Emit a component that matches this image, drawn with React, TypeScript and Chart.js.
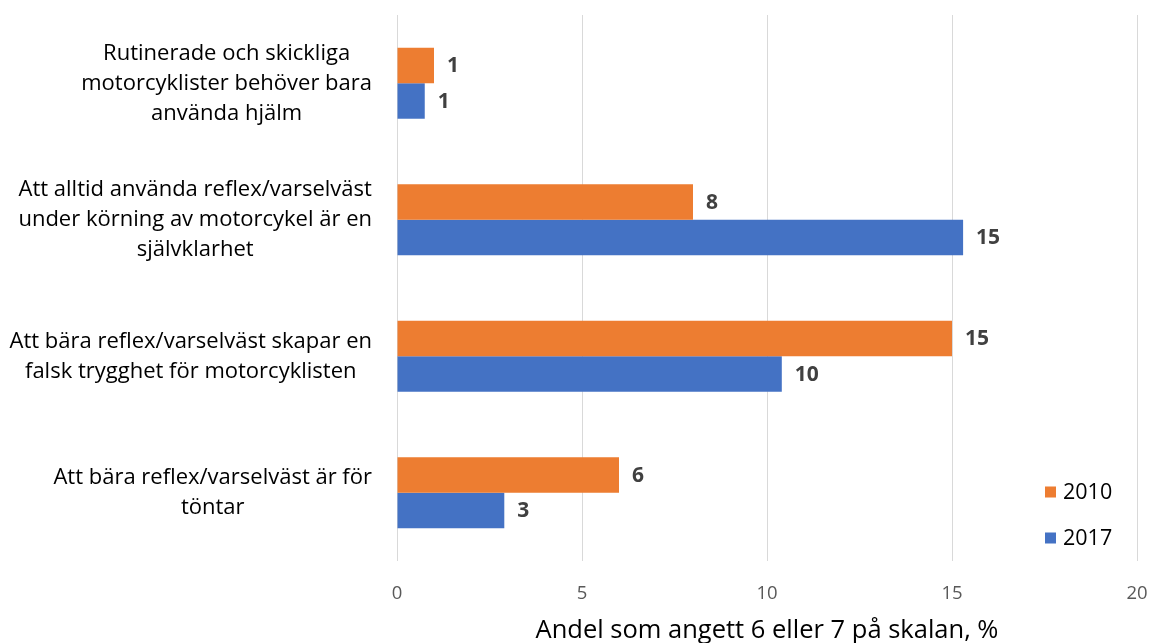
import { useEffect, useRef } from "react";
import { Chart, registerables } from "chart.js";

Chart.register(...registerables);

// Survey statements (wrapped into lines) and the two survey years
const categories: string[][] = [
  ["Rutinerade och skickliga", "motorcyklister behöver bara", "använda hjälm"],
  ["Att alltid använda reflex/varselväst", "under körning av motorcykel är en", "självklarhet"],
  ["Att bära reflex/varselväst skapar en", "falsk trygghet för motorcyklisten"],
  ["Att bära reflex/varselväst är för", "töntar"],
];
const seriesNames = ["2010", "2017"];
const values2010 = [1.0, 8.0, 15.0, 6.0];
const values2017 = [0.75, 15.3, 10.4, 2.9];
const xMin = 0;
const xMax = 20;
const xStep = 5;
const axisTitle = "Andel som angett 6 eller 7 på skalan, %";

const COLORS = ["#ED7D31", "#4472C4"];
const FONT = "'Open Sans', Lato, sans-serif";

// Statement labels: each block centered on itself, blocks right-aligned to the axis
const categoryLabelsPlugin = {
  id: "categoryLabels",
  afterDraw(chart: any) {
    const { ctx, scales, chartArea } = chart;
    const y = scales.y;
    const rightEdge = chartArea.left - 25;
    const lineH = 30;
    ctx.save();
    ctx.font = `22px ${FONT}`;
    ctx.fillStyle = "#000000";
    ctx.textAlign = "center";
    ctx.textBaseline = "middle";
    categories.forEach((lines, i) => {
      const cy = y.getPixelForValue(i);
      const maxW = Math.max(...lines.map((l) => ctx.measureText(l).width));
      const cx = rightEdge - maxW / 2;
      lines.forEach((line, j) => {
        ctx.fillText(line, cx, cy + (j - (lines.length - 1) / 2) * lineH);
      });
    });
    ctx.restore();
  },
};

// Value labels just past the end of each bar
const valueLabelsPlugin = {
  id: "valueLabels",
  afterDatasetsDraw(chart: any) {
    const { ctx } = chart;
    ctx.save();
    ctx.font = `bold 21px ${FONT}`;
    ctx.fillStyle = "#404040";
    ctx.textAlign = "left";
    ctx.textBaseline = "middle";
    chart.data.datasets.forEach((ds: any, di: number) => {
      const meta = chart.getDatasetMeta(di);
      meta.data.forEach((bar: any, i: number) => {
        ctx.fillText(String(Math.round(ds.data[i])), bar.x + 13, bar.y + 1);
      });
    });
    ctx.restore();
  },
};

// Legend in the lower right corner of the plot
const cornerLegendPlugin = {
  id: "cornerLegend",
  afterDraw(chart: any) {
    const { ctx, chartArea } = chart;
    const x = chartArea.right - 92;
    const rows = [chartArea.bottom - 69, chartArea.bottom - 23];
    ctx.save();
    ctx.font = `21.5px ${FONT}`;
    ctx.textAlign = "left";
    ctx.textBaseline = "middle";
    chart.data.datasets.forEach((ds: any, i: number) => {
      const cy = rows[i];
      ctx.fillStyle = ds.backgroundColor;
      ctx.fillRect(x, cy - 5.5, 11, 11);
      ctx.fillStyle = "#000000";
      ctx.fillText(ds.label, x + 18, cy + 1);
    });
    ctx.restore();
  },
};

export default function App() {
  const canvasRef = useRef<HTMLCanvasElement | null>(null);

  useEffect(() => {
    document.body.style.margin = "0";
    const canvas = canvasRef.current;
    if (!canvas) return;
    const chart = new Chart(canvas, {
      type: "bar",
      data: {
        labels: categories.map((c) => c.join(" ")),
        datasets: [
          {
            label: seriesNames[0],
            data: values2010,
            backgroundColor: COLORS[0],
            barPercentage: 1,
            categoryPercentage: 0.52,
          },
          {
            label: seriesNames[1],
            data: values2017,
            backgroundColor: COLORS[1],
            barPercentage: 1,
            categoryPercentage: 0.52,
          },
        ],
      },
      options: {
        indexAxis: "y",
        responsive: false,
        animation: false,
        layout: { padding: { left: 397, right: 17, top: 15, bottom: 0 } },
        plugins: {
          legend: { display: false },
          tooltip: { enabled: false },
        },
        scales: {
          y: {
            type: "category",
            ticks: { display: false },
            grid: { display: false },
            border: { display: false },
            afterFit: (s: any) => {
              s.width = 0;
              s.paddingTop = 0;
              s.paddingBottom = 0;
            },
          },
          x: {
            min: xMin,
            max: xMax,
            ticks: {
              stepSize: xStep,
              color: "#595959",
              font: { family: FONT, size: 18.5 },
              padding: 22,
            },
            grid: { color: "#D9D9D9", drawTicks: false, lineWidth: 1 },
            border: { display: false },
            title: {
              display: true,
              text: axisTitle,
              color: "#000000",
              font: { family: FONT, size: 25.5, lineHeight: 1 },
              padding: { top: 0, bottom: 0 },
            },
            afterFit: (s: any) => {
              s.height = 82;
              s.paddingLeft = 0;
              s.paddingRight = 0;
            },
          },
        },
      } as any,
      plugins: [valueLabelsPlugin, categoryLabelsPlugin, cornerLegendPlugin],
    });
    return () => chart.destroy();
  }, []);

  return (
    <canvas
      ref={canvasRef}
      width={1154}
      height={643}
      style={{ display: "block", width: 1154, height: 643 }}
    />
  );
}
